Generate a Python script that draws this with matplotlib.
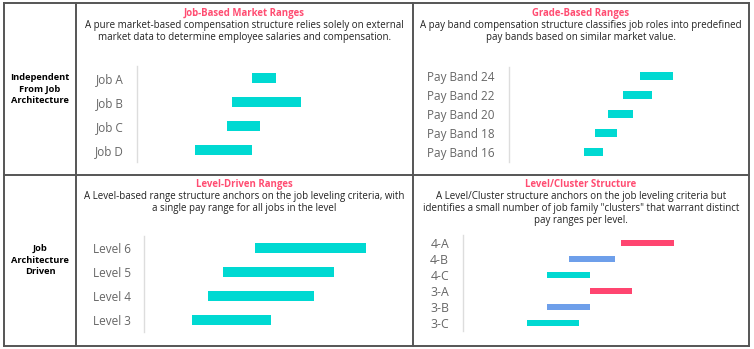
import matplotlib
matplotlib.use("Agg")
import matplotlib.pyplot as plt

# ---------------- data ----------------
job_labels = ["Job A", "Job B", "Job C", "Job D"]
job_start = [46, 38, 36, 23]
job_end = [55.6, 65.6, 49, 46]

band_labels = ["Pay Band 24", "Pay Band 22", "Pay Band 20", "Pay Band 18", "Pay Band 16"]
band_start = [65.5, 57, 49.5, 43, 37.5]
band_end = [82, 71.5, 62, 54, 47]

level_labels = ["Level 6", "Level 5", "Level 4", "Level 3"]
level_start = [44.4, 31.6, 25.6, 19.2]
level_end = [88.8, 76, 68, 50.8]

cluster_labels = ["4-A", "4-B", "4-C", "3-A", "3-B", "3-C"]
cluster_start = [63.2, 42.4, 33.6, 50.8, 33.6, 25.6]
cluster_end = [84.4, 60.8, 50.8, 67.6, 50.8, 46.4]
cluster_group = ["A", "B", "C", "A", "B", "C"]

titles = ["Job-Based Market Ranges", "Grade-Based Ranges",
          "Level-Driven Ranges", "Level/Cluster Structure"]
subtitles = [
    ["A pure market-based compensation structure relies solely on external",
     "market data to determine employee salaries and compensation."],
    ["A pay band compensation structure classifies job roles into predefined",
     "pay bands based on similar market value."],
    ["A Level-based range structure anchors on the job leveling criteria, with",
     "a single pay range for all jobs in the level"],
    ["A Level/Cluster structure anchors on the job leveling criteria but",
     "identifies a small number of job family \"clusters\" that warrant distinct",
     "pay ranges per level."],
]
row_labels = [["Independent", "From Job", "Architecture"],
              ["Job", "Architecture", "Driven"]]

# ---------------- style ----------------
plt.rcParams["font.family"] = ["Open Sans", "DejaVu Sans"]

CYAN = "#00D9D2"
RED = "#FF4570"
BLUE = "#6E9FEA"
PINK = "#FF4D72"
GRID = "#555555"
group_colors = {"A": RED, "B": BLUE, "C": CYAN}

W, H = 754, 349
fig = plt.figure(figsize=(W / 100, H / 100), dpi=100)
fig.patch.set_facecolor("white")

# overlay in pixel coordinates for frame and texts
ov = fig.add_axes([0, 0, 1, 1])
ov.set_xlim(0, W)
ov.set_ylim(H, 0)
ov.axis("off")

lw = 1.4
for (x0, y0, x1, y1) in [(4, 3, 749, 3), (4, 346, 749, 346), (4, 3, 4, 346),
                         (749, 3, 749, 346), (76, 3, 76, 346), (413, 3, 413, 346),
                         (4, 175, 749, 175)]:
    ov.plot([x0, x1], [y0, y1], color=GRID, lw=lw, solid_capstyle="projecting")

# row labels
for lines, base in zip(row_labels, [80, 251]):
    for i, ln in enumerate(lines):
        ov.text(40, base + 11.7 * i, ln, ha="center", va="baseline", fontsize=6.7,
                fontweight="bold", color="black")

# panel titles/subtitles
centers = [(244.5, 16), (581, 16), (244.5, 187), (581, 187)]
for (cx, by), t, sub in zip(centers, titles, subtitles):
    ov.text(cx, by, t, ha="center", va="baseline", fontsize=6.9, fontweight="bold",
            color=PINK)
    for i, ln in enumerate(sub):
        ov.text(cx, by + 12 + 12 * i, ln, ha="center", va="baseline", fontsize=7.05,
                color="#222222")


def panel(x0, y_top, y_bot, width, labels, starts, ends, colors, bar_h, fs, pad):
    ax = fig.add_axes([x0 / W, 1 - y_bot / H, width / W, (y_bot - y_top) / H])
    n = len(labels)
    ys = list(range(n))
    widths = [e - s for s, e in zip(starts, ends)]
    ax.barh(ys, widths, left=starts, height=bar_h, color=colors)
    ax.set_xlim(0, 100)
    ax.set_ylim(n - 0.5, -0.5)
    ax.set_yticks(ys)
    ax.set_yticklabels(labels, fontsize=fs, color="#666666")
    ax.tick_params(axis="y", length=0, pad=pad)
    ax.set_xticks([])
    for sp in ["top", "right", "bottom"]:
        ax.spines[sp].set_visible(False)
    ax.spines["left"].set_color("#DDDDDD")
    ax.spines["left"].set_linewidth(1.0)
    ax.patch.set_alpha(0)
    return ax


panel(137, 66, 162, 250, job_labels, job_start, job_end, [CYAN] * 4, 0.38, 8.5, 9.5)
panel(509, 66.5, 161.5, 200, band_labels, band_start, band_end, [CYAN] * 5, 0.38, 8.5, 10.5)
panel(144, 236, 332, 250, level_labels, level_start, level_end, [CYAN] * 4, 0.42, 8.5, 9.5)
panel(463, 235, 331, 250, cluster_labels, cluster_start, cluster_end,
      [group_colors[g] for g in cluster_group], 0.38, 8.8, 10)

fig.savefig("out.png", dpi=100, facecolor="white")
